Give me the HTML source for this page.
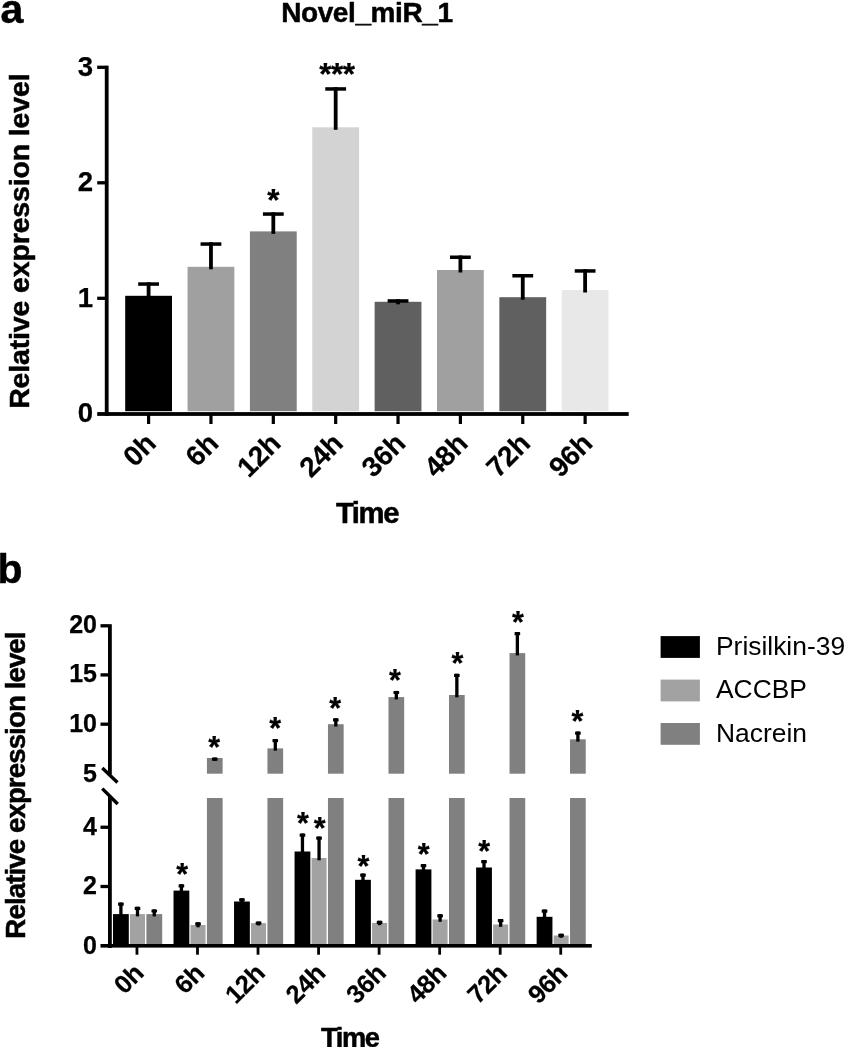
<!DOCTYPE html>
<html><head><meta charset="utf-8"><title>Figure</title>
<style>
html,body{margin:0;padding:0;background:#fff;}
body{width:845px;height:1047px;overflow:hidden;}
svg{display:block;filter:grayscale(1);}
text{font-family:"Liberation Sans", sans-serif;fill:#000;}
.b{font-weight:bold;stroke:#000;stroke-width:0.5px;stroke-linejoin:round;}
.t{stroke-width:0.25px;}
</style></head><body>
<svg width="845" height="1047" viewBox="0 0 845 1047">
<rect width="845" height="1047" fill="#fff"/>

<g id="panelA">
<text class="b" x="0.4" y="22.8" font-size="41">a</text>
<text class="b" x="366.9" y="21.9" font-size="28" letter-spacing="-0.4" text-anchor="middle">Novel_miR_1</text>
<text class="b" font-size="28.5" letter-spacing="-0.15" transform="translate(29.1,241.2) rotate(-90)" text-anchor="middle">Relative expression level</text>
<rect x="104.8" y="65.6" width="3.8" height="350.20000000000005" fill="#000"/>
<rect x="97.2" y="412.1" width="531.50" height="3.8" fill="#000"/>
<text class="b t" font-size="27.6" x="93.2" y="422.40" text-anchor="end">0</text>
<rect x="97.2" y="296.65" width="8" height="3.3" fill="#000"/>
<text class="b t" font-size="27.6" x="93.2" y="306.90" text-anchor="end">1</text>
<rect x="97.2" y="181.15" width="8" height="3.3" fill="#000"/>
<text class="b t" font-size="27.6" x="93.2" y="191.40" text-anchor="end">2</text>
<rect x="97.2" y="65.65" width="8" height="3.3" fill="#000"/>
<text class="b t" font-size="27.6" x="93.2" y="75.90" text-anchor="end">3</text>
<rect x="125.20" y="295.8" width="46.8" height="115.40" fill="#000000"/>
<rect x="146.70" y="282.3" width="3.8" height="16.00" fill="#000"/>
<rect x="138.20" y="282.3" width="20.8" height="3.5" fill="#000"/>
<rect x="147.00" y="415" width="3.2" height="9" fill="#000"/>
<text class="b t" font-size="28" letter-spacing="-0.3" text-anchor="end" transform="translate(157.40,445.2) rotate(-45)">0h</text>
<rect x="187.56" y="266.8" width="46.8" height="144.40" fill="#a0a0a0"/>
<rect x="209.06" y="242.3" width="3.8" height="27.00" fill="#000"/>
<rect x="200.56" y="242.3" width="20.8" height="3.5" fill="#000"/>
<rect x="209.36" y="415" width="3.2" height="9" fill="#000"/>
<text class="b t" font-size="28" letter-spacing="-0.3" text-anchor="end" transform="translate(219.76,445.2) rotate(-45)">6h</text>
<rect x="249.92" y="231.4" width="46.8" height="179.80" fill="#808080"/>
<rect x="271.42" y="212.3" width="3.8" height="21.60" fill="#000"/>
<rect x="262.92" y="212.3" width="20.8" height="3.5" fill="#000"/>
<rect x="271.72" y="415" width="3.2" height="9" fill="#000"/>
<text class="b t" font-size="28" letter-spacing="-0.3" text-anchor="end" transform="translate(282.12,445.2) rotate(-45)">12h</text>
<rect x="312.28" y="127.3" width="46.8" height="283.90" fill="#d3d3d3"/>
<rect x="333.78" y="87.2" width="3.8" height="42.60" fill="#000"/>
<rect x="325.28" y="87.2" width="20.8" height="3.5" fill="#000"/>
<rect x="334.08" y="415" width="3.2" height="9" fill="#000"/>
<text class="b t" font-size="28" letter-spacing="-0.3" text-anchor="end" transform="translate(344.48,445.2) rotate(-45)">24h</text>
<rect x="374.64" y="301.8" width="46.8" height="109.40" fill="#606060"/>
<rect x="396.14" y="299.2" width="3.8" height="5.10" fill="#000"/>
<rect x="387.64" y="299.2" width="20.8" height="3.5" fill="#000"/>
<rect x="396.44" y="415" width="3.2" height="9" fill="#000"/>
<text class="b t" font-size="28" letter-spacing="-0.3" text-anchor="end" transform="translate(406.84,445.2) rotate(-45)">36h</text>
<rect x="437.00" y="270" width="46.8" height="141.20" fill="#a0a0a0"/>
<rect x="458.50" y="255.5" width="3.8" height="17.00" fill="#000"/>
<rect x="450.00" y="255.5" width="20.8" height="3.5" fill="#000"/>
<rect x="458.80" y="415" width="3.2" height="9" fill="#000"/>
<text class="b t" font-size="28" letter-spacing="-0.3" text-anchor="end" transform="translate(469.20,445.2) rotate(-45)">48h</text>
<rect x="499.36" y="297.2" width="46.8" height="114.00" fill="#606060"/>
<rect x="520.86" y="274" width="3.8" height="25.70" fill="#000"/>
<rect x="512.36" y="274" width="20.8" height="3.5" fill="#000"/>
<rect x="521.16" y="415" width="3.2" height="9" fill="#000"/>
<text class="b t" font-size="28" letter-spacing="-0.3" text-anchor="end" transform="translate(531.56,445.2) rotate(-45)">72h</text>
<rect x="561.72" y="290" width="46.8" height="121.20" fill="#e8e8e8"/>
<rect x="583.22" y="269.2" width="3.8" height="23.30" fill="#000"/>
<rect x="574.72" y="269.2" width="20.8" height="3.5" fill="#000"/>
<rect x="583.52" y="415" width="3.2" height="9" fill="#000"/>
<text class="b t" font-size="28" letter-spacing="-0.3" text-anchor="end" transform="translate(593.92,445.2) rotate(-45)">96h</text>
<text class="b" font-size="29.3" x="367" y="523" text-anchor="middle" letter-spacing="-1.4">Time</text>
<text class="b t" font-size="31.5" x="273.4" y="211.3" text-anchor="middle">*</text>
<text class="b t" font-size="31.5" x="336.8" y="85.4" text-anchor="middle" letter-spacing="-0.5">***</text>
</g>
<g id="panelB">
<text class="b" x="-2.6" y="583" font-size="41">b</text>
<text class="b" font-size="27.6" letter-spacing="-0.88" transform="translate(25.1,785.5) rotate(-90)" text-anchor="middle">Relative expression level</text>
<rect x="108" y="624.2" width="3.8" height="150.4" fill="#000"/>
<rect x="108" y="796" width="3.8" height="152" fill="#000"/>
<rect x="100.5" y="944" width="491.3" height="3.6" fill="#000"/>
<line x1="102.3" y1="768" x2="117.5" y2="782.4" stroke="#000" stroke-width="3.4"/>
<line x1="102.3" y1="788.6" x2="117.7" y2="804" stroke="#000" stroke-width="3.4"/>
<rect x="100.5" y="624.15" width="8" height="3.3" fill="#000"/>
<text class="b t" font-size="25" x="97" y="633.20" text-anchor="end">20</text>
<rect x="100.5" y="673.25" width="8" height="3.3" fill="#000"/>
<text class="b t" font-size="25" x="97" y="682.30" text-anchor="end">15</text>
<rect x="100.5" y="722.55" width="8" height="3.3" fill="#000"/>
<text class="b t" font-size="25" x="97" y="731.60" text-anchor="end">10</text>
<text class="b t" font-size="25" x="97" y="781.90" text-anchor="end">5</text>
<rect x="100.5" y="825.60" width="8" height="3.3" fill="#000"/>
<text class="b t" font-size="25" x="97" y="834.65" text-anchor="end">4</text>
<rect x="100.5" y="884.85" width="8" height="3.3" fill="#000"/>
<text class="b t" font-size="25" x="97" y="893.90" text-anchor="end">2</text>
<text class="b t" font-size="25" x="97" y="953.95" text-anchor="end">0</text>
<rect x="113.00" y="914.1" width="15.8" height="29.90" fill="#000000"/>
<rect x="130.00" y="914.1" width="15.0" height="29.90" fill="#a2a2a2"/>
<rect x="146.40" y="914.1" width="15.8" height="29.90" fill="#808080"/>
<rect x="119.25" y="902.60" width="3.3" height="13.80" fill="#000"/>
<rect x="118.10" y="902.60" width="5.6" height="3.2" rx="0.6" fill="#000"/>
<rect x="135.85" y="906.80" width="3.3" height="9.60" fill="#000"/>
<rect x="134.70" y="906.80" width="5.6" height="3.2" rx="0.6" fill="#000"/>
<rect x="152.60" y="909.40" width="3.3" height="7.00" fill="#000"/>
<rect x="151.45" y="909.40" width="5.6" height="3.2" rx="0.6" fill="#000"/>
<rect x="135.55" y="947" width="2.8" height="7.7" fill="#000"/>
<text class="b t" font-size="25.5" letter-spacing="-0.3" text-anchor="end" transform="translate(145.15,974.6) rotate(-45)">0h</text>
<rect x="173.52" y="890.6" width="15.8" height="53.40" fill="#000000"/>
<rect x="190.52" y="925" width="15.0" height="19.00" fill="#a2a2a2"/>
<rect x="206.92" y="798" width="15.7" height="146" fill="#808080"/>
<rect x="206.92" y="758" width="15.7" height="15.70" fill="#808080"/>
<rect x="179.77" y="884.30" width="3.3" height="8.60" fill="#000"/>
<rect x="178.62" y="884.30" width="5.6" height="3.2" rx="0.6" fill="#000"/>
<rect x="196.37" y="922.30" width="3.3" height="5.00" fill="#000"/>
<rect x="195.22" y="922.30" width="5.6" height="3.2" rx="0.6" fill="#000"/>
<rect x="213.12" y="757.60" width="3.3" height="3.20" fill="#000"/>
<rect x="211.97" y="757.60" width="5.6" height="3.2" rx="0.6" fill="#000"/>
<rect x="196.09" y="947" width="2.8" height="7.7" fill="#000"/>
<text class="b t" font-size="25.5" letter-spacing="-0.3" text-anchor="end" transform="translate(205.69,974.6) rotate(-45)">6h</text>
<rect x="234.04" y="901.5" width="15.8" height="42.50" fill="#000000"/>
<rect x="251.04" y="923.1" width="15.0" height="20.90" fill="#a2a2a2"/>
<rect x="267.44" y="798" width="15.7" height="146" fill="#808080"/>
<rect x="267.44" y="748.4" width="15.7" height="25.30" fill="#808080"/>
<rect x="240.29" y="898.20" width="3.3" height="5.60" fill="#000"/>
<rect x="239.14" y="898.20" width="5.6" height="3.2" rx="0.6" fill="#000"/>
<rect x="256.89" y="921.60" width="3.3" height="3.80" fill="#000"/>
<rect x="255.74" y="921.60" width="5.6" height="3.2" rx="0.6" fill="#000"/>
<rect x="273.64" y="739.10" width="3.3" height="11.60" fill="#000"/>
<rect x="272.49" y="739.10" width="5.6" height="3.2" rx="0.6" fill="#000"/>
<rect x="256.63" y="947" width="2.8" height="7.7" fill="#000"/>
<text class="b t" font-size="25.5" letter-spacing="-0.3" text-anchor="end" transform="translate(266.23,974.6) rotate(-45)">12h</text>
<rect x="294.56" y="851.5" width="15.8" height="92.50" fill="#000000"/>
<rect x="311.56" y="858" width="15.0" height="86.00" fill="#a2a2a2"/>
<rect x="327.96" y="798" width="15.7" height="146" fill="#808080"/>
<rect x="327.96" y="724.2" width="15.7" height="49.50" fill="#808080"/>
<rect x="300.81" y="833.60" width="3.3" height="20.20" fill="#000"/>
<rect x="299.66" y="833.60" width="5.6" height="3.2" rx="0.6" fill="#000"/>
<rect x="317.41" y="836.60" width="3.3" height="23.70" fill="#000"/>
<rect x="316.26" y="836.60" width="5.6" height="3.2" rx="0.6" fill="#000"/>
<rect x="334.16" y="718.30" width="3.3" height="8.20" fill="#000"/>
<rect x="333.01" y="718.30" width="5.6" height="3.2" rx="0.6" fill="#000"/>
<rect x="317.17" y="947" width="2.8" height="7.7" fill="#000"/>
<text class="b t" font-size="25.5" letter-spacing="-0.3" text-anchor="end" transform="translate(326.77,974.6) rotate(-45)">24h</text>
<rect x="355.08" y="879.8" width="15.8" height="64.20" fill="#000000"/>
<rect x="372.08" y="922.9" width="15.0" height="21.10" fill="#a2a2a2"/>
<rect x="388.48" y="798" width="15.7" height="146" fill="#808080"/>
<rect x="388.48" y="697.1" width="15.7" height="76.60" fill="#808080"/>
<rect x="361.33" y="873.60" width="3.3" height="8.50" fill="#000"/>
<rect x="360.18" y="873.60" width="5.6" height="3.2" rx="0.6" fill="#000"/>
<rect x="377.93" y="920.80" width="3.3" height="4.40" fill="#000"/>
<rect x="376.78" y="920.80" width="5.6" height="3.2" rx="0.6" fill="#000"/>
<rect x="394.68" y="690.90" width="3.3" height="8.50" fill="#000"/>
<rect x="393.53" y="690.90" width="5.6" height="3.2" rx="0.6" fill="#000"/>
<rect x="377.71" y="947" width="2.8" height="7.7" fill="#000"/>
<text class="b t" font-size="25.5" letter-spacing="-0.3" text-anchor="end" transform="translate(387.31,974.6) rotate(-45)">36h</text>
<rect x="415.60" y="869.4" width="15.8" height="74.60" fill="#000000"/>
<rect x="432.60" y="919.5" width="15.0" height="24.50" fill="#a2a2a2"/>
<rect x="449.00" y="798" width="15.7" height="146" fill="#808080"/>
<rect x="449.00" y="695" width="15.7" height="78.70" fill="#808080"/>
<rect x="421.85" y="864.10" width="3.3" height="7.60" fill="#000"/>
<rect x="420.70" y="864.10" width="5.6" height="3.2" rx="0.6" fill="#000"/>
<rect x="438.45" y="914.20" width="3.3" height="7.60" fill="#000"/>
<rect x="437.30" y="914.20" width="5.6" height="3.2" rx="0.6" fill="#000"/>
<rect x="455.20" y="673.80" width="3.3" height="23.50" fill="#000"/>
<rect x="454.05" y="673.80" width="5.6" height="3.2" rx="0.6" fill="#000"/>
<rect x="438.25" y="947" width="2.8" height="7.7" fill="#000"/>
<text class="b t" font-size="25.5" letter-spacing="-0.3" text-anchor="end" transform="translate(447.85,974.6) rotate(-45)">48h</text>
<rect x="476.12" y="867.5" width="15.8" height="76.50" fill="#000000"/>
<rect x="493.12" y="924.5" width="15.0" height="19.50" fill="#a2a2a2"/>
<rect x="509.52" y="798" width="15.7" height="146" fill="#808080"/>
<rect x="509.52" y="653.1" width="15.7" height="120.60" fill="#808080"/>
<rect x="482.37" y="860.10" width="3.3" height="9.70" fill="#000"/>
<rect x="481.22" y="860.10" width="5.6" height="3.2" rx="0.6" fill="#000"/>
<rect x="498.97" y="919.10" width="3.3" height="7.70" fill="#000"/>
<rect x="497.82" y="919.10" width="5.6" height="3.2" rx="0.6" fill="#000"/>
<rect x="515.72" y="632.10" width="3.3" height="23.30" fill="#000"/>
<rect x="514.57" y="632.10" width="5.6" height="3.2" rx="0.6" fill="#000"/>
<rect x="498.79" y="947" width="2.8" height="7.7" fill="#000"/>
<text class="b t" font-size="25.5" letter-spacing="-0.3" text-anchor="end" transform="translate(508.39,974.6) rotate(-45)">72h</text>
<rect x="536.64" y="916.8" width="15.8" height="27.20" fill="#000000"/>
<rect x="553.64" y="935.5" width="15.0" height="8.50" fill="#a2a2a2"/>
<rect x="570.04" y="798" width="15.7" height="146" fill="#808080"/>
<rect x="570.04" y="739.3" width="15.7" height="34.40" fill="#808080"/>
<rect x="542.89" y="909.60" width="3.3" height="9.50" fill="#000"/>
<rect x="541.74" y="909.60" width="5.6" height="3.2" rx="0.6" fill="#000"/>
<rect x="559.49" y="933.70" width="3.3" height="4.10" fill="#000"/>
<rect x="558.34" y="933.70" width="5.6" height="3.2" rx="0.6" fill="#000"/>
<rect x="576.24" y="731.60" width="3.3" height="10.00" fill="#000"/>
<rect x="575.09" y="731.60" width="5.6" height="3.2" rx="0.6" fill="#000"/>
<rect x="559.33" y="947" width="2.8" height="7.7" fill="#000"/>
<text class="b t" font-size="25.5" letter-spacing="-0.3" text-anchor="end" transform="translate(568.93,974.6) rotate(-45)">96h</text>
<text class="b t" font-size="30.5" x="214.30" y="758.30" text-anchor="middle">*</text>
<text class="b t" font-size="30.5" x="275.30" y="738.70" text-anchor="middle">*</text>
<text class="b t" font-size="30.5" x="335.10" y="719.00" text-anchor="middle">*</text>
<text class="b t" font-size="30.5" x="395.00" y="691.40" text-anchor="middle">*</text>
<text class="b t" font-size="30.5" x="457.50" y="673.60" text-anchor="middle">*</text>
<text class="b t" font-size="30.5" x="518.00" y="633.20" text-anchor="middle">*</text>
<text class="b t" font-size="30.5" x="577.40" y="731.90" text-anchor="middle">*</text>
<text class="b t" font-size="30.5" x="182.10" y="884.50" text-anchor="middle">*</text>
<text class="b t" font-size="30.5" x="303.00" y="834.10" text-anchor="middle">*</text>
<text class="b t" font-size="30.5" x="319.60" y="838.70" text-anchor="middle">*</text>
<text class="b t" font-size="30.5" x="363.40" y="876.60" text-anchor="middle">*</text>
<text class="b t" font-size="30.5" x="423.80" y="864.70" text-anchor="middle">*</text>
<text class="b t" font-size="30.5" x="484.30" y="861.60" text-anchor="middle">*</text>
<text class="b" font-size="27.3" x="349.8" y="1046.6" text-anchor="middle" letter-spacing="-1.4">Time</text>
<rect x="660.6" y="636.1" width="39.3" height="21.8" fill="#000000"/>
<text font-size="26.4" x="716" y="655">Prisilkin-39</text>
<rect x="660.6" y="679.6" width="39.3" height="21.8" fill="#a2a2a2"/>
<text font-size="26.4" x="716" y="698.3">ACCBP</text>
<rect x="660.6" y="723" width="39.3" height="21.8" fill="#808080"/>
<text font-size="26.4" x="716" y="741.9">Nacrein</text>
</g>
</svg></body></html>
